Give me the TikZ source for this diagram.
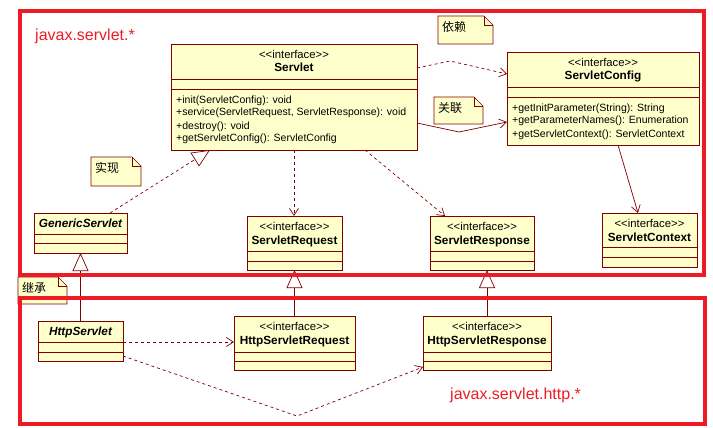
\documentclass[tikz,border=0pt]{standalone}
\usepackage{fontspec}
\setmainfont{Liberation Sans}
\newfontfamily\cjk{Noto Sans CJK SC}
\usetikzlibrary{arrows.meta}

\definecolor{umlfill}{RGB}{255,255,204}
\definecolor{umlline}{RGB}{128,0,0}
\definecolor{pkgred}{RGB}{237,28,36}

\tikzstyle{cls}      = [draw=umlline, fill=umlfill, line width=0.8pt, anchor=north west, inner sep=0pt, outer sep=0pt]
\tikzstyle{partline} = [draw=umlline, line width=0.8pt]
\tikzstyle{stereo}   = [anchor=base, inner sep=0pt, font=\fontsize{11.3}{13}\selectfont]
\tikzstyle{title}    = [anchor=base, inner sep=0pt, font=\fontsize{11.8}{13}\selectfont\bfseries]
\tikzstyle{atitle}   = [title, font=\fontsize{11.8}{13}\selectfont\bfseries\itshape]
\tikzstyle{ops}      = [anchor=base west, inner sep=0pt, font=\fontsize{10.5}{13}\selectfont]
\tikzstyle{dep}      = [umlline, line width=0.7pt, dash pattern=on 3pt off 3pt, -{Straight Barb[length=7pt, width=9pt]}]
\tikzstyle{assoc}    = [umlline, line width=0.7pt, -{Straight Barb[length=7pt, width=9pt]}]
\tikzstyle{gen}      = [umlline, line width=0.7pt, -{Triangle[open, length=18pt, width=16pt, fill=white]}]
\tikzstyle{real}     = [gen, dash pattern=on 3pt off 3pt]
\tikzstyle{notebox}  = [draw=umlline, fill=umlfill, line width=0.7pt]
\tikzstyle{notetext} = [anchor=west, inner sep=0pt, font=\cjk\fontsize{12}{14}\selectfont]
\tikzstyle{pkg}      = [draw=pkgred, line width=4.5pt]
\tikzstyle{pkglabel} = [anchor=base west, inner sep=0pt, text=pkgred, font=\fontsize{16}{18}\selectfont]

% name, top left, width, height, first rule, second rule
\def\umlclass#1#2#3#4#5#6{
  \node[cls, minimum width=#3pt, minimum height=#4pt] (#1) at (#2) {};
  \draw[partline] ([yshift=-#5pt]#1.north west) -- ([yshift=-#5pt]#1.north east);
  \draw[partline] ([yshift=-#6pt]#1.north west) -- ([yshift=-#6pt]#1.north east);
}
\def\interface#1#2{
  \node[stereo] (#1-st) at ([yshift=-14.5pt]#1.north) {<{}<interface>{}>};
  \node[title] (#1-name) at ([yshift=-28pt]#1.north) {#2};
}
% name, top left, width, height, text
\def\umlnote#1#2#3#4#5{
  \draw[notebox] (#2) -- ++(#3-9,0) -- ++(9,9) -- ++(0,#4-9) -- ++(-#3,0) -- cycle;
  \draw[partline] (#2) ++(#3-9,0) -- ++(0,9) -- ++(9,0);
  \path (#2) ++(4,11) node[notetext] (#1) {#5};
}

\begin{document}
\begin{tikzpicture}[x=1pt, y=-1pt]
  \useasboundingbox (0,0) rectangle (713,428);

  % javax.servlet
  \umlclass{servlet}{171,44}{246}{106}{35}{45}
  \interface{servlet}{Servlet}
  \foreach \op [count=\i] in {+init(ServletConfig): void, {+service(ServletRequest, ServletResponse): void},
                              +destroy(): void, +getServletConfig(): ServletConfig}
    \node[ops] (servlet-op\i) at ([xshift=5pt, yshift={-46pt-13pt*\i}]servlet.north west) {\op};

  \umlclass{config}{507,52}{192}{93}{35}{45}
  \interface{config}{ServletConfig}
  \foreach \op [count=\i] in {+getInitParameter(String): String, +getParameterNames(): Enumeration,
                              +getServletContext(): ServletContext}
    \node[ops] (config-op\i) at ([xshift=5pt, yshift={-46pt-13pt*\i}]config.north west) {\op};

  \umlclass{generic}{34,213}{93}{40}{21}{30}
  \node[atitle] (generic-name) at ([yshift=-14pt]generic.north) {GenericServlet};

  \umlclass{request}{247,216}{95}{54}{35}{45}
  \interface{request}{ServletRequest}
  \umlclass{response}{430,216}{104}{54}{35}{45}
  \interface{response}{ServletResponse}
  \umlclass{context}{602,213}{95}{54}{34}{44}
  \interface{context}{ServletContext}

  % javax.servlet.http
  \umlclass{httpservlet}{38,321}{85}{40}{21}{31}
  \node[atitle] (httpservlet-name) at ([yshift=-14.5pt]httpservlet.north) {HttpServlet};
  \umlclass{httprequest}{234,316}{121}{54}{36}{45}
  \interface{httprequest}{HttpServletRequest}
  \umlclass{httpresponse}{423,316}{128}{54}{36}{45}
  \interface{httpresponse}{HttpServletResponse}

  % notes
  \umlnote{n-dep}{438,16}{55}{28}{依赖}
  \umlnote{n-assoc}{434,97}{49}{27}{关联}
  \umlnote{n-real}{91,157}{50}{29}{实现}
  \umlnote{n-gen}{18,277}{49}{27}{继承}

  % relations
  \draw[dep] ([yshift=-24pt]servlet.north east) -- (450,61) -- ([yshift=-22pt]config.north west);
  \draw[assoc] ([yshift=-79pt]servlet.north east) -- (459,132) -- ([yshift=-70pt]config.north west);
  \draw[assoc] ([xshift=15pt]config.south) -- ([xshift=-11.5pt]context.north);
  \draw[dep] (servlet.south) -- (servlet.south |- request.north);
  \draw[dep] ([xshift=71pt]servlet.south) -- ([xshift=-37pt]response.north);
  \draw[real] ([xshift=-17pt]generic.north east) -- ([xshift=-84pt]servlet.south);
  \draw[gen] (httpservlet.north) -- (httpservlet.north |- generic.south);
  \draw[gen] (httprequest.north) -- (httprequest.north |- request.south);
  \draw[gen] (httpresponse.north) -- (httpresponse.north |- response.south);
  \draw[dep] ([yshift=-21pt]httpservlet.north east) -- ([yshift=-26pt]httprequest.north west);
  \draw[dep] ([yshift=-35pt]httpservlet.north east) -- (297,416) -- ([yshift=-51pt]httpresponse.north west);

  % packages
  \draw[pkg] (20,11) rectangle (704,275);
  \draw[pkg] (20,298) rectangle (705,424);
  \node[pkglabel] (pkg-servlet) at (35,41) {javax.servlet.*};
  \node[pkglabel] (pkg-http) at (450,399) {javax.servlet.http.*};
\end{tikzpicture}
\end{document}
